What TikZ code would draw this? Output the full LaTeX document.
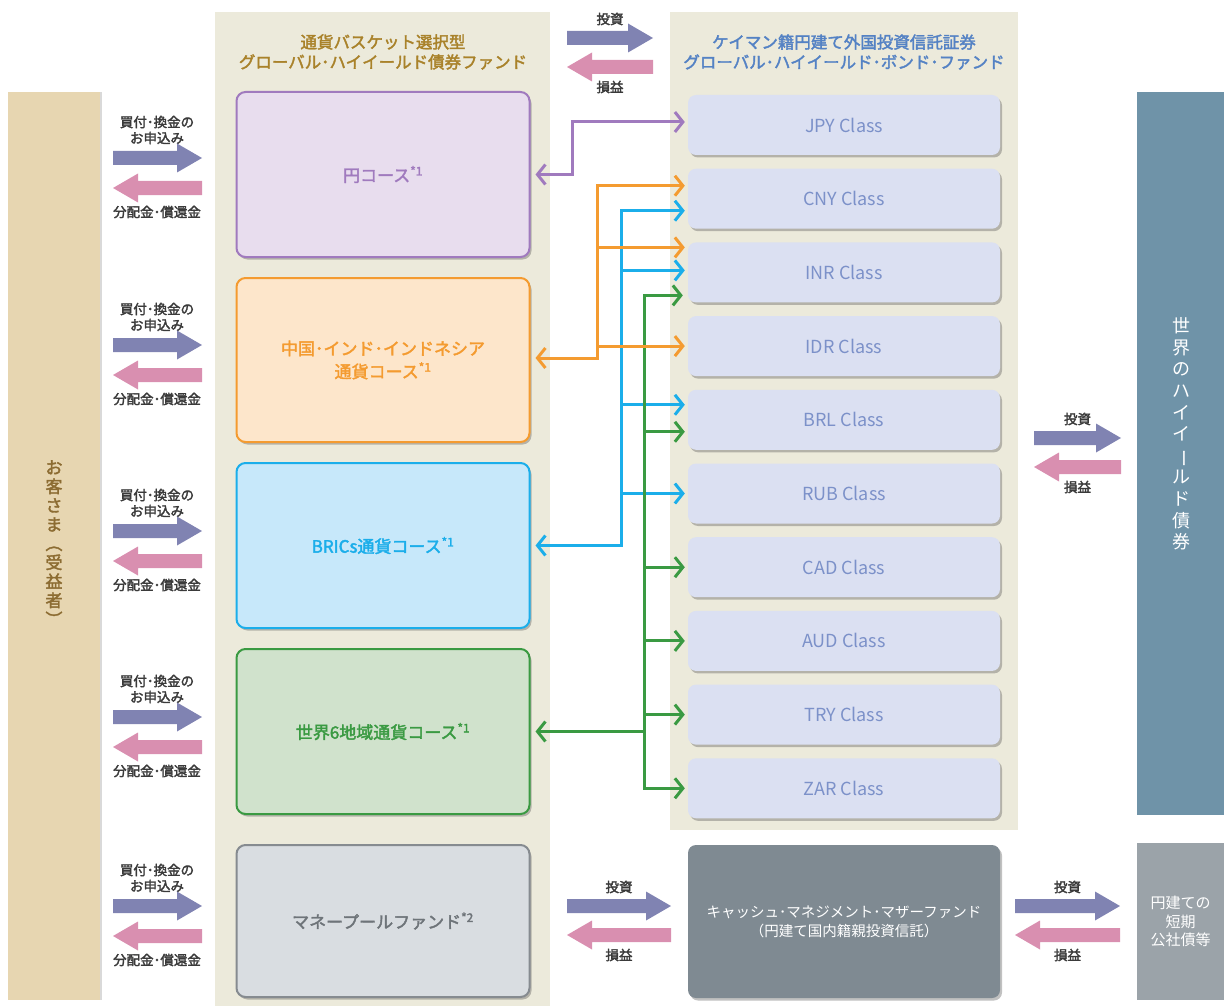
\documentclass[tikz,border=0pt]{standalone}
\usepackage{fontspec}
\usepackage{graphicx}
\newfontfamily\jpfont[AutoFakeBold=2.2]{Noto Sans CJK JP}
\usetikzlibrary{arrows.meta, shadows, calc}

\definecolor{panelbg}{HTML}{ECEADB}
\definecolor{clientbg}{HTML}{E7D6B1}
\definecolor{clienttext}{HTML}{8C6C32}
\definecolor{basketgold}{HTML}{A9822A}
\definecolor{caymanblue}{HTML}{5482C4}
\definecolor{invblue}{HTML}{8083B2}
\definecolor{retpink}{HTML}{D98FB0}
\definecolor{yenline}{HTML}{A07ABE}
\definecolor{yenfill}{HTML}{E8DDEE}
\definecolor{chinaline}{HTML}{F49B30}
\definecolor{chinafill}{HTML}{FDE6CB}
\definecolor{bricsline}{HTML}{1BAEEA}
\definecolor{bricsfill}{HTML}{C7E8FA}
\definecolor{worldline}{HTML}{3A9A42}
\definecolor{worldfill}{HTML}{D0E2CC}
\definecolor{moneyline}{HTML}{868B90}
\definecolor{moneyfill}{HTML}{D9DDE1}
\definecolor{moneytext}{HTML}{6E7479}
\definecolor{classfill}{HTML}{DBE0F2}
\definecolor{classtext}{HTML}{7C91C9}
\definecolor{bondbar}{HTML}{6F93A8}
\definecolor{cashbox}{HTML}{7F8A92}
\definecolor{shortbond}{HTML}{9BA3A9}
\definecolor{labelgray}{HTML}{3A3A3A}

\tikzset{
  softshadow/.style={drop shadow={shadow xshift=2pt, shadow yshift=-2.5pt, opacity=.35, fill=black!70}},
  course/.style={draw=#1line, fill=#1fill, line width=2pt, rounded corners=9pt,
    minimum width=293pt, softshadow, text=#1line, align=center,
    font=\jpfont\bfseries\fontsize{17}{23}\selectfont},
  classbox/.style={fill=classfill, rounded corners=8pt, minimum width=312pt,
    minimum height=60pt, softshadow, text=classtext,
    font=\jpfont\fontsize{18}{22}\selectfont},
  header/.style={align=center, font=\jpfont\bfseries\fontsize{16.5}{20}\selectfont},
  smalllabel/.style={align=center, text=labelgray, inner sep=0pt,
    font=\jpfont\bfseries\fontsize{13.5}{16}\selectfont},
  whitetext/.style={align=center, text=white, inner sep=0pt},
  link/.style={draw=#1, line width=3pt, line join=miter},
  tipend/.style={-{Straight Barb[length=8pt,width=20pt]}, shorten >=3pt},
  tipstart/.style={{Straight Barb[length=8pt,width=20pt]}-, shorten <=5pt},
  tipboth/.style={{Straight Barb[length=8pt,width=20pt]}-{Straight Barb[length=8pt,width=20pt]},
    shorten <=5pt, shorten >=3pt},
  pics/invest/.style={code={
    \fill[invblue] (0,7) -- (#1-25,7) -- (#1-25,14.5) -- (#1,0)
      -- (#1-25,-14.5) -- (#1-25,-7) -- (0,-7) -- cycle;}},
  pics/payout/.style={code={
    \fill[retpink] (0,0) -- (25,-14.5) -- (25,-7) -- (#1,-7)
      -- (#1,7) -- (25,7) -- (25,14.5) -- cycle;}},
}

\begin{document}
\begin{tikzpicture}[x=1pt, y=-1pt]
\useasboundingbox (0,0) rectangle (1224,1006);

% background panels
\fill[panelbg] (215,12) rectangle (550,1006);
\fill[panelbg] (670,12) rectangle (1018,830);

\node[header, text=basketgold] (baskethead) at (383,52)
  {通貨バスケット選択型\\グローバル･ハイイールド債券ファンド};
\node[header, text=caymanblue] (caymanhead) at (844,52)
  {ケイマン籍円建て外国投資信託証券\\グローバル･ハイイールド･ボンド･ファンド};

% customers
\node[fill=clientbg, minimum width=92pt, minimum height=908pt, inner sep=0pt,
  drop shadow={shadow xshift=2pt, shadow yshift=0pt, opacity=.25, fill=black!60}] (client) at (54,546) {};
\node[align=center, text=clienttext, font=\jpfont\bfseries\fontsize{17}{19}\selectfont] (clientlabel) at (54,544)
  {お\\客\\さ\\ま\\\rotatebox[origin=c]{-90}{（}\\受\\益\\者\\\rotatebox[origin=c]{-90}{）}};

% courses
\node[course=yen, minimum height=165pt] (yen) at (383,174.5) {円コース\textsuperscript{*1}};
\node[course=china, minimum height=164pt] (china) at (383,360)
  {中国･インド･インドネシア\\通貨コース\textsuperscript{*1}};
\node[course=brics, minimum height=165pt] (brics) at (383,545.5) {BRICs通貨コース\textsuperscript{*1}};
\node[course=world, minimum height=165pt] (world) at (383,731.5) {世界6地域通貨コース\textsuperscript{*1}};
\node[course=money, text=moneytext, minimum height=152pt] (money) at (383,921)
  {マネープールファンド\textsuperscript{*2}};

% share classes
\foreach \cls [count=\i from 0] in {JPY,CNY,INR,IDR,BRL,RUB,CAD,AUD,TRY,ZAR}
  \node[classbox] (\cls) at (844,125+73.7*\i) {\cls{} Class};

% high yield bonds
\node[fill=bondbar, minimum width=87pt, minimum height=723pt, inner sep=0pt] (bonds) at (1180.5,453.5) {};
\node[whitetext, font=\jpfont\fontsize{18}{21.6}\selectfont] (bondlabel) at (1181,434)
  {世\\界\\の\\ハ\\イ\\イ\\\rotatebox[origin=c]{-90}{ー}\\ル\\ド\\債\\券};

% cash management
\node[fill=cashbox, rounded corners=8pt, minimum width=312pt, minimum height=153pt, softshadow,
  whitetext, font=\jpfont\fontsize{14.5}{19}\selectfont] (cash) at (844,921.5)
  {キャッシュ･マネジメント･マザーファンド\\（円建て国内籍親投資信託）};
\node[fill=shortbond, minimum width=87pt, minimum height=157pt,
  whitetext, font=\jpfont\fontsize{15}{18.5}\selectfont] (shortbonds) at (1180.5,921.5)
  {円建ての\\短期\\公社債等};

% subscription arrows
\foreach \y [count=\k] in {158,345,531,717,906} {
  \node[smalllabel] (apply\k) at (157,\y-28) {買付･換金の\\お申込み};
  \pic at (113,\y) {invest=89};
  \pic at (113,\y+30) {payout=89};
  \node[smalllabel] (pay\k) at (157,\y+54) {分配金･償還金};
}

% investment arrows
\foreach \x/\y/\len [count=\k] in {567/38/86, 1034/438/87, 567/906/104, 1015/906/105} {
  \node[smalllabel] (inv\k) at (\x+\len/2,\y-19) {投資};
  \pic at (\x,\y) {invest=\len};
  \pic at (\x,\y+29) {payout=\len};
  \node[smalllabel] (gain\k) at (\x+\len/2,\y+49) {損益};
}

% course to class links
\draw[link=yenline, tipboth] (yen.east) -| ($(JPY.west)+(-115,-3)$) -- ($(JPY.west)+(0,-3)$);

\draw[link=bricsline, tipboth] (brics.east) -| ($(CNY.west)+(-66,12)$) -- ($(CNY.west)+(0,12)$);
\foreach \cls/\dy in {INR/-2, BRL/-15, RUB/0}
  \draw[link=bricsline, tipend] ($(\cls.west)+(-66,\dy)$) -- ($(\cls.west)+(0,\dy)$);

\draw[link=worldline, tipboth] ($(INR.west)+(0,23)$) -- ($(INR.west)+(-43,23)$) |- (ZAR.west);
\coordinate (gtrunk) at ($(ZAR.west)+(-43,0)$);
\draw[link=worldline, tipstart] (world.east) -- (gtrunk |- world.east);
\foreach \cls/\dy in {BRL/12, CAD/0, AUD/0, TRY/0}
  \draw[link=worldline, tipend] ($(\cls.west)+(-43,\dy)$) -- ($(\cls.west)+(0,\dy)$);

\draw[link=chinaline, tipboth] ([yshift=2pt]china.east) -| ($(CNY.west)+(-90,-13)$) -- ($(CNY.west)+(0,-13)$);
\foreach \cls/\dy in {INR/-25, IDR/0}
  \draw[link=chinaline, tipend] ($(\cls.west)+(-90,\dy)$) -- ($(\cls.west)+(0,\dy)$);
\end{tikzpicture}
\end{document}
